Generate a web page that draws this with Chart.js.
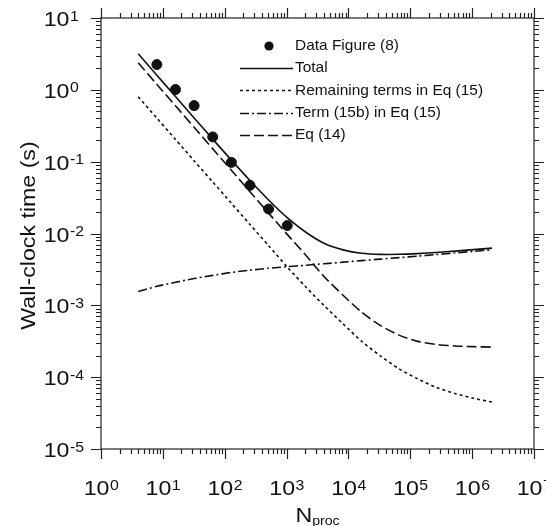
<!DOCTYPE html>
<html><head><meta charset="utf-8">
<script src="https://cdn.jsdelivr.net/npm/chart.js@4/dist/chart.umd.min.js"></script>
<style>html,body{margin:0;padding:0;background:#fff;}#wrap{width:546px;height:526px;}</style>
</head><body><div id="wrap"><canvas id="c" width="546" height="526"></canvas></div>
<script>
// ---- data ----
const nProc = [4,8,16,32,64,128,256,512,1024,2048,4096,8192,16384,32768,65536,131072,262144,524288,1048576,2097152];
const totalTime = [3.18,1.60,0.806,0.406,0.206,0.105,0.0547,0.0293,0.0166,0.0104,0.00726,0.00592,0.00531,0.00512,0.00513,0.00525,0.00545,0.00569,0.00596,0.00625];
const remainingTerms = [0.80,0.404,0.204,0.103,0.0522,0.0264,0.01337,0.00678,0.00342,0.00180,0.000982,0.000553,0.000315,0.000198,0.000131,0.0000948,0.0000721,0.0000594,0.0000508,0.0000450];
const term15b = [0.00156,0.00184,0.00209,0.00236,0.00261,0.00287,0.00309,0.00328,0.00345,0.00362,0.00380,0.00399,0.00419,0.00440,0.00461,0.00484,0.00509,0.00536,0.00564,0.00594];
const eq14 = [2.38,1.19,0.600,0.301,0.151,0.0760,0.0382,0.0192,0.00973,0.00498,0.00248,0.00138,0.000802,0.000525,0.000385,0.000315,0.000285,0.000272,0.000266,0.000262];
const dataN = [8,16,32,64,128,256,512,1024];
const dataTime = [2.25,1.01,0.603,0.221,0.0977,0.0468,0.0219,0.0129];
const xTickExps = [0,1,2,3,4,5,6,7];
const yTickExps = [-5,-4,-3,-2,-1,0,1];
const seriesLabels = ['Data Figure (8)','Total','Remaining terms in Eq (15)','Term (15b) in Eq (15)','Eq (14)'];
const yTitle = 'Wall-clock time (s)';
const xTitleMain = 'N', xTitleSub = 'proc';

const FONT = '"Liberation Sans", Arial, sans-serif';
const SX = 1.13; // horizontal stretch of the large text
const pairs = arr => nProc.map((n,i)=>({x:n,y:arr[i]}));

const datasets = [
  {label: seriesLabels[0], data: dataN.map((n,i)=>({x:n,y:dataTime[i]})), showLine:false,
   pointRadius:5, pointBackgroundColor:'#111', pointBorderColor:'#111', borderColor:'#111'},
  {label: seriesLabels[1], data: pairs(totalTime), borderColor:'#111', borderWidth:1.6, pointRadius:0, tension:0.25, borderDash:[]},
  {label: seriesLabels[2], data: pairs(remainingTerms), borderColor:'#111', borderWidth:1.6, pointRadius:0, tension:0.25, borderDash:[3,3]},
  {label: seriesLabels[3], data: pairs(term15b), borderColor:'#111', borderWidth:1.6, pointRadius:0, tension:0.25, borderDash:[9,3,2,3]},
  {label: seriesLabels[4], data: pairs(eq14), borderColor:'#111', borderWidth:1.6, pointRadius:0, tension:0.25, borderDash:[10,4]}
];

function txt(ctx, s, x, y, size, sx) {
  ctx.save();
  ctx.font = size + 'px ' + FONT;
  ctx.translate(x, y); ctx.scale(sx, 1);
  ctx.fillText(s, 0, 0);
  ctx.restore();
}
function tw(ctx, s, size, sx) { ctx.font = size + 'px ' + FONT; return ctx.measureText(s).width * sx; }

function drawPow(ctx, exp, x, baseline, mode) {
  const base = '10', sup = String(exp);
  const wb = tw(ctx, base, 20.5, SX), ws = tw(ctx, sup, 14, SX);
  const xb = mode === 'center' ? x - (wb + ws) / 2 : x - wb;
  ctx.textAlign = 'left'; ctx.textBaseline = 'alphabetic';
  txt(ctx, base, xb, baseline, 20.5, SX);
  txt(ctx, sup, xb + wb + 0.5, baseline - 5.5, 14, SX);
}

const decor = {
  id: 'decor',
  afterDraw(chart) {
    const ctx = chart.ctx, a = chart.chartArea, xs = chart.scales.x, ys = chart.scales.y;
    ctx.save();
    ctx.strokeStyle = '#222'; ctx.lineWidth = 1.2; ctx.setLineDash([]);
    ctx.strokeRect(a.left, a.top, a.right - a.left, a.bottom - a.top);
    ctx.beginPath();
    const xe = xTickExps;
    for (let e = xe[0]; e <= xe[xe.length-1]; e++) {
      for (let m = 1; m <= 9; m++) {
        const v = m * Math.pow(10, e);
        if (v > xs.max * 1.0001) break;
        const px = Math.round(xs.getPixelForValue(v)) + 0.5;
        const len = m === 1 ? 10 : 5;
        ctx.moveTo(px, a.bottom); ctx.lineTo(px, a.bottom + len);
        ctx.moveTo(px, a.top); ctx.lineTo(px, a.top - len);
      }
    }
    const ye = yTickExps;
    for (let e = ye[0]; e <= ye[ye.length-1]; e++) {
      for (let m = 1; m <= 9; m++) {
        const v = m * Math.pow(10, e);
        if (v > ys.max * 1.0001) break;
        const py = Math.round(ys.getPixelForValue(v)) + 0.5;
        const len = m === 1 ? 10 : 5;
        ctx.moveTo(a.left, py); ctx.lineTo(a.left - len, py);
        ctx.moveTo(a.right, py); ctx.lineTo(a.right + len, py);
      }
    }
    ctx.stroke();

    ctx.fillStyle = '#111';
    xTickExps.forEach(e => drawPow(ctx, e, xs.getPixelForValue(Math.pow(10, e)), 495, 'center'));
    yTickExps.forEach(e => drawPow(ctx, e, 69.5, ys.getPixelForValue(Math.pow(10, e)) + 8, 'base-right'));

    // y title (rotated)
    ctx.save();
    ctx.translate(29, (a.top + a.bottom) / 2 + 2);
    ctx.rotate(-Math.PI / 2);
    ctx.scale(SX, 1);
    ctx.font = '20.5px ' + FONT; ctx.textAlign = 'center'; ctx.textBaseline = 'middle';
    ctx.fillText(yTitle, 0, 0);
    ctx.restore();
    // x title with subscript
    const wN = tw(ctx, xTitleMain, 20.5, SX), wS = tw(ctx, xTitleSub, 12.5, SX);
    const cx = (a.left + a.right) / 2;
    const x0 = cx - (wN + wS) / 2;
    ctx.textAlign = 'left'; ctx.textBaseline = 'alphabetic';
    txt(ctx, xTitleMain, x0, 521.5, 20.5, SX);
    txt(ctx, xTitleSub, x0 + wN, 525, 12.5, SX);

    // legend
    const lx0 = 240, lx1 = 293, tx = 295, ly0 = 46, dy = 22.2;
    chart.data.datasets.forEach((ds, i) => {
      const y = ly0 + i * dy;
      if (ds.showLine === false) {
        ctx.beginPath(); ctx.fillStyle = '#111';
        ctx.arc(269, y, 4.6, 0, Math.PI * 2); ctx.fill();
      } else {
        ctx.beginPath(); ctx.strokeStyle = '#111'; ctx.lineWidth = 1.6;
        ctx.setLineDash(ds.borderDash || []);
        ctx.moveTo(lx0, Math.round(y) + 0.5); ctx.lineTo(lx1, Math.round(y) + 0.5); ctx.stroke();
        ctx.setLineDash([]);
      }
      ctx.fillStyle = '#111'; ctx.textAlign = 'left'; ctx.textBaseline = 'middle';
      txt(ctx, ds.label, tx, y, 15, 1.03);
    });
    ctx.restore();
  }
};

new Chart(document.getElementById('c'), {
  type: 'line',
  data: { datasets },
  options: {
    responsive: false, animation: false, devicePixelRatio: 1,
    layout: { padding: { left: 101, top: 18, right: 12, bottom: 77 } },
    plugins: { legend: { display: false }, tooltip: { enabled: false } },
    scales: {
      x: { type: 'logarithmic', min: 1, max: 1e7, display: false },
      y: { type: 'logarithmic', min: 1e-5, max: 10, display: false }
    }
  },
  plugins: [decor]
});
</script></body></html>
